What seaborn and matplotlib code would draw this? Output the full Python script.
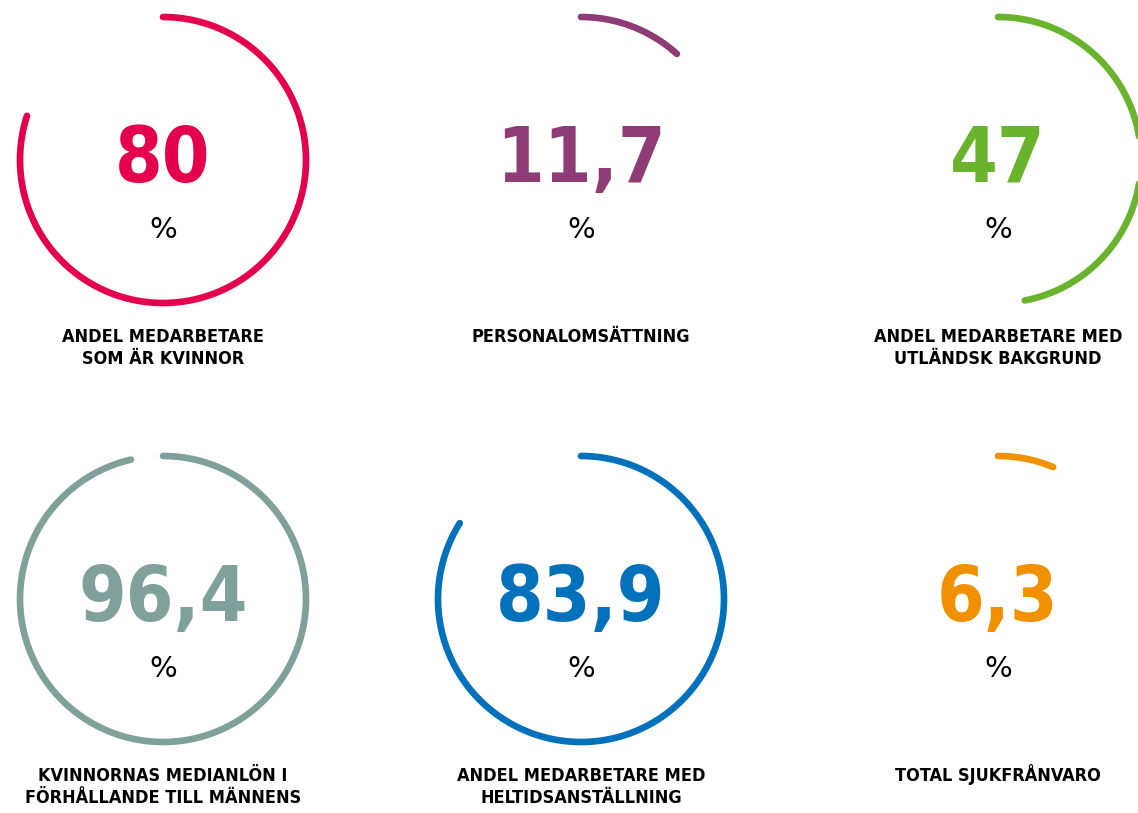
import numpy as np
import matplotlib
matplotlib.use("Agg")
import matplotlib.pyplot as plt
import seaborn as sns

# key figures
values = [80, 11.7, 47, 96.4, 83.9, 6.3]
value_text = ["80", "11,7", "47", "96,4", "83,9", "6,3"]
labels = [
    "ANDEL MEDARBETARE\nSOM ÄR KVINNOR",
    "PERSONALOMSÄTTNING",
    "ANDEL MEDARBETARE MED\nUTLÄNDSK BAKGRUND",
    "KVINNORNAS MEDIANLÖN I\nFÖRHÅLLANDE TILL MÄNNENS",
    "ANDEL MEDARBETARE MED\nHELTIDSANSTÄLLNING",
    "TOTAL SJUKFRÅNVARO",
]
colors = ["#E5004E", "#8E3B76", "#6AB42D", "#7FA09B", "#0071BA", "#F29100"]

sns.set_theme(style="white")
plt.rcParams["font.family"] = ["DejaVu Sans"]

W, H = 1138, 813
fig = plt.figure(figsize=(W / 100, H / 100), dpi=100)
ax = fig.add_axes([0, 0, 1, 1])
ax.set_xlim(0, W)
ax.set_ylim(H, 0)
ax.axis("off")

col_x = [163, 581, 998]
row_y = [160, 599]
radius = 143

for i, (val, txt, lab, col) in enumerate(zip(values, value_text, labels, colors)):
    cx = col_x[i % 3]
    cy = row_y[i // 3]
    # clockwise arc from 12 o'clock
    theta = np.linspace(0, 2 * np.pi * val / 100, 300)
    sns.lineplot(x=cx + radius * np.sin(theta), y=cy - radius * np.cos(theta),
                 sort=False, color=col, linewidth=4.8, solid_capstyle="round",
                 ax=ax, legend=False)
    ax.text(cx, cy + 22, txt, color=col, fontsize=55, fontweight="bold",
            fontstretch="condensed", ha="center", va="baseline")
    ax.text(cx, cy + 70, "%", color="black", fontsize=21,
            ha="center", va="center")
    # label lines, first line at a fixed baseline
    for k, line in enumerate(lab.split("\n")):
        ax.text(cx, cy + 182 + 22 * k, line, color="black", fontsize=13,
                fontweight="bold", fontstretch="condensed",
                ha="center", va="baseline")

fig.savefig("out.png", dpi=100, facecolor="white")
